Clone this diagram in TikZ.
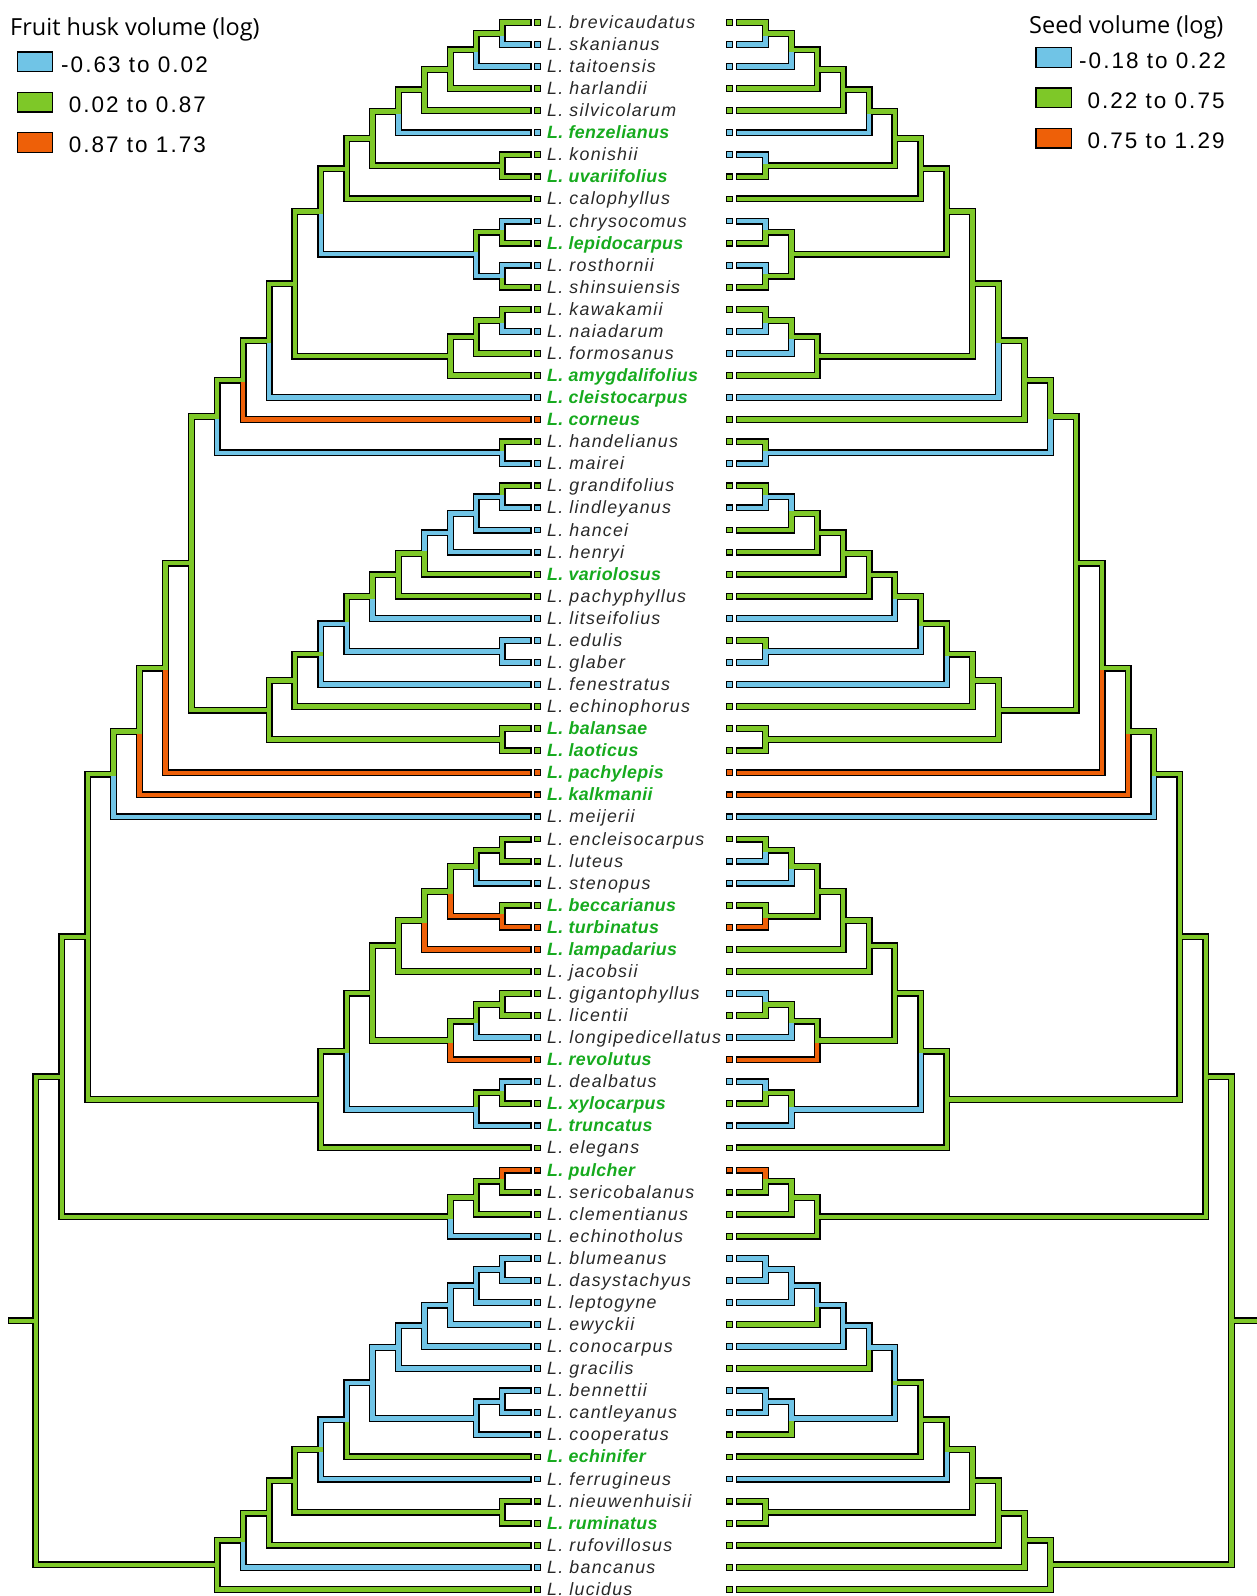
\documentclass[tikz,border=0pt]{standalone}
\usepackage{fontspec}
\setmainfont{Liberation Sans}
\newfontfamily\taxonfont[LetterSpace=7]{Liberation Sans}
\newfontfamily\keyfont[LetterSpace=2]{Liberation Sans}
\newfontfamily\rangefont[LetterSpace=9]{Liberation Sans}
\newfontfamily\headfont{Open Sans}

\definecolor{low}{RGB}{112,196,230}
\definecolor{mid}{RGB}{126,200,40}
\definecolor{high}{RGB}{238,96,8}
\definecolor{keygreen}{RGB}{22,170,30}
\definecolor{taxongray}{RGB}{40,40,40}

% tips: row / name / label style / husk colour / seed colour
\newcommand\taxonlist{%
  1/brevicaudatus/taxon/mid/mid, 2/skanianus/taxon/low/low, 3/taitoensis/taxon/low/low,
  4/harlandii/taxon/mid/mid, 5/silvicolarum/taxon/mid/mid, 6/fenzelianus/key taxon/low/low,
  7/konishii/taxon/mid/low, 8/uvariifolius/key taxon/mid/mid, 9/calophyllus/taxon/mid/mid,
  10/chrysocomus/taxon/low/low, 11/lepidocarpus/key taxon/mid/mid, 12/rosthornii/taxon/low/low,
  13/shinsuiensis/taxon/mid/mid, 14/kawakamii/taxon/mid/mid, 15/naiadarum/taxon/low/low,
  16/formosanus/taxon/mid/low, 17/amygdalifolius/key taxon/mid/mid, 18/cleistocarpus/key taxon/low/low,
  19/corneus/key taxon/high/mid, 20/handelianus/taxon/mid/mid, 21/mairei/taxon/low/low,
  22/grandifolius/taxon/mid/mid, 23/lindleyanus/taxon/low/low, 24/hancei/taxon/low/mid,
  25/henryi/taxon/low/mid, 26/variolosus/key taxon/mid/mid, 27/pachyphyllus/taxon/mid/mid,
  28/litseifolius/taxon/low/low, 29/edulis/taxon/low/mid, 30/glaber/taxon/low/low,
  31/fenestratus/taxon/low/low, 32/echinophorus/taxon/mid/mid, 33/balansae/key taxon/mid/mid,
  34/laoticus/key taxon/mid/mid, 35/pachylepis/key taxon/high/high, 36/kalkmanii/key taxon/high/high,
  37/meijerii/taxon/low/low, 38/encleisocarpus/taxon/mid/mid, 39/luteus/taxon/mid/low,
  40/stenopus/taxon/low/low, 41/beccarianus/key taxon/mid/mid, 42/turbinatus/key taxon/high/high,
  43/lampadarius/key taxon/high/mid, 44/jacobsii/taxon/mid/mid, 45/gigantophyllus/taxon/mid/low,
  46/licentii/taxon/mid/mid, 47/longipedicellatus/taxon/low/low, 48/revolutus/key taxon/high/high,
  49/dealbatus/taxon/low/low, 50/xylocarpus/key taxon/mid/mid, 51/truncatus/key taxon/low/low,
  52/elegans/taxon/mid/mid, 53/pulcher/key taxon/high/high, 54/sericobalanus/taxon/mid/mid,
  55/clementianus/taxon/mid/mid, 56/echinotholus/taxon/low/mid, 57/blumeanus/taxon/low/low,
  58/dasystachyus/taxon/low/low, 59/leptogyne/taxon/low/low, 60/ewyckii/taxon/low/mid,
  61/conocarpus/taxon/low/low, 62/gracilis/taxon/low/mid, 63/bennettii/taxon/low/low,
  64/cantleyanus/taxon/low/low, 65/cooperatus/taxon/low/mid, 66/echinifer/key taxon/mid/mid,
  67/ferrugineus/taxon/low/low, 68/nieuwenhuisii/taxon/mid/mid, 69/ruminatus/key taxon/mid/mid,
  70/rufovillosus/taxon/mid/mid, 71/bancanus/taxon/low/mid, 72/lucidus/taxon/mid/mid}

% clades: name / child a / child b / level / husk colours a,b / seed colours a,b
\newcommand\cladelist{%
  n1to2/t1/t2/1/mid/low/mid/low, n1to3/n1to2/t3/2/mid/low/mid/low,
  n1to4/n1to3/t4/3/mid/mid/mid/mid, n1to5/n1to4/t5/4/mid/mid/mid/mid,
  n1to6/n1to5/t6/5/mid/low/mid/low, n7to8/t7/t8/1/mid/mid/low/mid,
  n1to8/n1to6/n7to8/6/mid/mid/mid/mid, n1to9/n1to8/t9/7/mid/mid/mid/mid,
  n10to11/t10/t11/1/low/mid/low/mid, n12to13/t12/t13/1/low/mid/low/mid,
  n10to13/n10to11/n12to13/2/mid/low/mid/mid, n1to13/n1to9/n10to13/8/mid/low/mid/mid,
  n14to15/t14/t15/1/mid/low/mid/low, n14to16/n14to15/t16/2/mid/mid/mid/low,
  n14to17/n14to16/t17/3/mid/mid/mid/mid, n1to17/n1to13/n14to17/9/mid/mid/mid/mid,
  n1to18/n1to17/t18/10/mid/low/mid/low, n1to19/n1to18/t19/11/mid/high/mid/mid,
  n20to21/t20/t21/1/mid/low/mid/low, n1to21/n1to19/n20to21/12/mid/low/mid/low,
  n22to23/t22/t23/1/mid/low/mid/low, n22to24/n22to23/t24/2/low/low/low/mid,
  n22to25/n22to24/t25/3/low/low/mid/mid, n22to26/n22to25/t26/4/low/mid/mid/mid,
  n22to27/n22to26/t27/5/mid/mid/mid/mid, n22to28/n22to27/t28/6/mid/low/mid/low,
  n29to30/t29/t30/1/low/low/mid/low, n22to30/n22to28/n29to30/7/mid/low/mid/low,
  n22to31/n22to30/t31/8/low/low/mid/low, n22to32/n22to31/t32/9/mid/mid/mid/mid,
  n33to34/t33/t34/1/mid/mid/mid/mid, n22to34/n22to32/n33to34/10/mid/mid/mid/mid,
  n1to34/n1to21/n22to34/13/mid/mid/mid/mid, n1to35/n1to34/t35/14/mid/high/mid/high,
  n1to36/n1to35/t36/15/mid/high/mid/high, n1to37/n1to36/t37/16/mid/low/mid/low,
  n38to39/t38/t39/1/mid/mid/mid/low, n38to40/n38to39/t40/2/mid/low/mid/low,
  n41to42/t41/t42/1/mid/high/mid/high, n38to42/n38to40/n41to42/3/mid/high/mid/mid,
  n38to43/n38to42/t43/4/mid/high/mid/mid, n38to44/n38to43/t44/5/mid/mid/mid/mid,
  n45to46/t45/t46/1/mid/mid/low/mid, n45to47/n45to46/t47/2/mid/low/mid/low,
  n45to48/n45to47/t48/3/mid/high/mid/high, n38to48/n38to44/n45to48/6/mid/mid/mid/mid,
  n49to50/t49/t50/1/low/mid/low/mid, n49to51/n49to50/t51/2/mid/low/mid/low,
  n38to51/n38to48/n49to51/7/mid/low/mid/low, n38to52/n38to51/t52/8/mid/mid/mid/mid,
  n1to52/n1to37/n38to52/17/mid/mid/mid/mid, n53to54/t53/t54/1/high/mid/high/mid,
  n53to55/n53to54/t55/2/mid/mid/mid/mid, n53to56/n53to55/t56/3/mid/low/mid/mid,
  n1to56/n1to52/n53to56/18/mid/mid/mid/mid, n57to58/t57/t58/1/low/low/low/low,
  n57to59/n57to58/t59/2/low/low/low/low, n57to60/n57to59/t60/3/low/low/low/mid,
  n57to61/n57to60/t61/4/low/low/low/low, n57to62/n57to61/t62/5/low/low/low/mid,
  n63to64/t63/t64/1/low/low/low/low, n63to65/n63to64/t65/2/low/low/low/mid,
  n57to65/n57to62/n63to65/6/low/low/low/low, n57to66/n57to65/t66/7/low/mid/mid/mid,
  n57to67/n57to66/t67/8/low/low/mid/low, n68to69/t68/t69/1/mid/mid/mid/mid,
  n57to69/n57to67/n68to69/9/mid/mid/mid/mid, n57to70/n57to69/t70/10/mid/mid/mid/mid,
  n57to71/n57to70/t71/11/mid/low/mid/mid, n57to72/n57to71/t72/12/mid/mid/mid/mid,
  n1to72/n1to56/n57to72/19/mid/mid/mid/mid}

\begin{document}
\begin{tikzpicture}[
    x=1pt, y=-1pt,
    % Branch styles
    branch outline/.style={draw=black, line width=7pt, line cap=rect, line join=miter},
    branch fill/.style={line width=4.4pt, line cap=rect, line join=miter},
    % Node styles
    tip box/.style={rectangle, draw=black, line width=1.1pt, minimum size=5.8pt, inner sep=0pt},
    taxon/.style={anchor=base west, inner sep=0pt, text=taxongray,
        font=\taxonfont\fontsize{17.8}{20}\selectfont\itshape},
    key taxon/.style={taxon, text=keygreen,
        font=\keyfont\fontsize{17.8}{20}\selectfont\itshape\bfseries},
    legend head/.style={anchor=base west, inner sep=0pt, font=\headfont\fontsize{23.5}{26}\selectfont},
    legend box/.style={rectangle, draw=black, line width=1.3pt,
        minimum width=35.5pt, minimum height=19.5pt, inner sep=0pt},
    legend text/.style={anchor=base west, inner sep=0pt, font=\rangefont\fontsize{22.5}{26}\selectfont},
  ]
  \useasboundingbox (0,0) rectangle (1256,1596);

  % --- Tips: end points, boxes and names ---
  \foreach \i/\name/\st/\hc/\sc in \taxonlist {
    \coordinate (Lt\i) at (528, {22.4+(\i-1)*22.07});
    \coordinate (Rt\i) at (739.5, {22.4+(\i-1)*22.07});
    \node[tip box, fill=\hc] (Lbox\i) at (537.5, {22.4+(\i-1)*22.07}) {};
    \node[tip box, fill=\sc] (Rbox\i) at (729.5, {22.4+(\i-1)*22.07}) {};
    \node[\st] (lab\i) at (547, {28.4+(\i-1)*22.07}) {L. \name};
  }

  % --- Clade nodes: halfway between the children, x from the level ---
  \foreach \n/\ca/\cb/\lev/\hA/\hB/\sA/\sB in \cladelist {
    \path (L\ca) -- (L\cb) coordinate[pos=0.5] (here);
    \coordinate (L\n) at ({528-25.9*\lev},0 |- here);
    \coordinate (R\n) at ({739.5+25.9*\lev},0 |- here);
  }
  \coordinate (Lstub) at (11,0 |- Ln1to72);
  \coordinate (Rstub) at (1262,0 |- Rn1to72);

  % --- Black edges first, colours on top ---
  \foreach \n/\ca/\cb/\lev/\hA/\hB/\sA/\sB in \cladelist {
    \draw[branch outline] (L\n) |- (L\ca);
    \draw[branch outline] (L\n) |- (L\cb);
    \draw[branch outline] (R\n) |- (R\ca);
    \draw[branch outline] (R\n) |- (R\cb);
  }
  \draw[branch outline] (Ln1to72) -- (Lstub);
  \draw[branch outline] (Rn1to72) -- (Rstub);

  \foreach \n/\ca/\cb/\lev/\hA/\hB/\sA/\sB in \cladelist {
    \draw[branch fill, draw=\hA] (L\n) |- (L\ca);
    \draw[branch fill, draw=\hB] (L\n) |- (L\cb);
    \draw[branch fill, draw=\sA] (R\n) |- (R\ca);
    \draw[branch fill, draw=\sB] (R\n) |- (R\cb);
  }
  \draw[branch fill, draw=mid] (Ln1to72) -- (Lstub);
  \draw[branch fill, draw=mid] (Rn1to72) -- (Rstub);

  % --- Legends ---
  \node[legend head] (huskhead) at (10,35) {Fruit husk volume (log)};
  \foreach \c/\txt/\k/\tx in {low/-0.63 to 0.02/0/61, mid/0.02 to 0.87/1/68.6, high/0.87 to 1.73/2/68.6} {
    \node[legend box, fill=\c] (huskbox\k) at (35, {61.8+40.3*\k}) {};
    \node[legend text] (husktext\k) at (\tx, {72+40.3*\k}) {\txt};
  }
  \node[legend head] (seedhead) at (1029,33.3) {Seed volume (log)};
  \foreach \c/\txt/\k/\tx in {low/-0.18 to 0.22/0/1079, mid/0.22 to 0.75/1/1087.3, high/0.75 to 1.29/2/1087.3} {
    \node[legend box, fill=\c] (seedbox\k) at (1053.6, {57.5+40.3*\k}) {};
    \node[legend text] (seedtext\k) at (\tx, {68.3+40.3*\k}) {\txt};
  }
\end{tikzpicture}
\end{document}
